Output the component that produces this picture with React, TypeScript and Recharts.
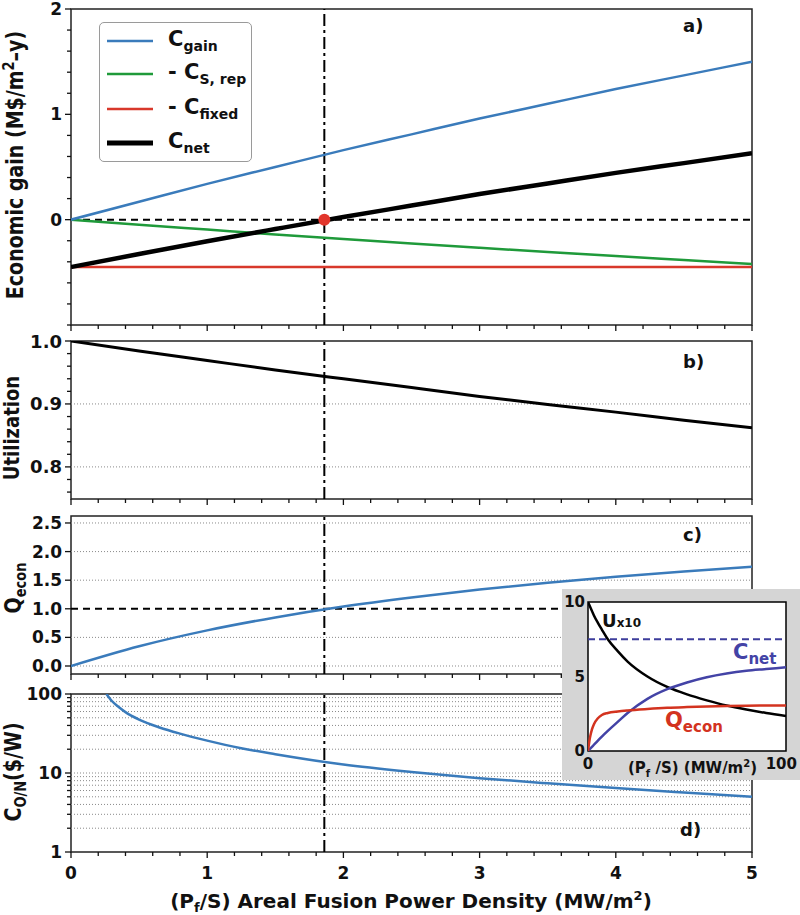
import React from "react";
import { LineChart, Line, XAxis, YAxis, ReferenceLine, ReferenceArea, ReferenceDot } from "recharts";

const FONT = "'DejaVu Sans', 'Liberation Sans', Arial, sans-serif";

// main panels a) - c): areal fusion power density (MW/m2)
const xGrid = [0, 0.5, 1, 1.5, 2, 2.5, 3, 3.5, 4, 4.5, 5];
const cGain = [0, 0.17, 0.34, 0.5, 0.66, 0.81, 0.96, 1.1, 1.24, 1.37, 1.5];
const cSRep = [0, -0.048, -0.094, -0.14, -0.183, -0.226, -0.267, -0.307, -0.346, -0.383, -0.42];
const cFixed = [-0.45, -0.45, -0.45, -0.45, -0.45, -0.45, -0.45, -0.45, -0.45, -0.45, -0.45];
const cNet = [-0.45, -0.326, -0.205, -0.089, 0.025, 0.134, 0.243, 0.344, 0.444, 0.537, 0.63];
const utilization = [1.0, 0.984, 0.969, 0.954, 0.94, 0.926, 0.912, 0.899, 0.887, 0.874, 0.862];
const qEcon = [0, 0.345, 0.623, 0.849, 1.04, 1.198, 1.336, 1.454, 1.56, 1.652, 1.734];

// panel d): overnight cost, log axis
const conX = [0.26, 0.3, 0.35, 0.4, 0.5, 0.65, 0.8, 1, 1.25, 1.5, 2, 2.5, 3, 3.5, 4, 4.5, 5];
const conCost = [100, 81.5, 68.4, 59, 47.4, 37.7, 31.5, 25.7, 20.6, 17.3, 12.8, 10.3, 8.6, 7.4, 6.45, 5.67, 5.0];

// inset: 0..100 MW/m2
const insetX = [0, 1, 2, 3, 5, 7, 10, 15, 20, 30, 40, 50, 60, 70, 80, 90, 100];
const insetU = [10, 9.7, 9.4, 9.1, 8.6, 8.15, 7.5, 6.7, 6.0, 5.0, 4.3, 3.8, 3.4, 3.05, 2.78, 2.55, 2.35];
const insetNet = [0, 0.14, 0.28, 0.42, 0.7, 0.97, 1.35, 1.95, 2.55, 3.5, 4.15, 4.6, 4.95, 5.2, 5.38, 5.5, 5.62];
const insetQ = [0, 0.9, 1.45, 1.8, 2.2, 2.42, 2.55, 2.65, 2.72, 2.82, 2.9, 2.95, 2.99, 3.02, 3.04, 3.05, 3.06];

// ticks
const xTicks = [0, 0.2, 0.4, 0.6, 0.8, 1, 1.2, 1.4, 1.6, 1.8, 2, 2.2, 2.4, 2.6, 2.8, 3, 3.2, 3.4, 3.6, 3.8, 4, 4.2, 4.4, 4.6, 4.8, 5];
const aTicks = [-1, -0.8, -0.6, -0.4, -0.2, 0, 0.2, 0.4, 0.6, 0.8, 1, 1.2, 1.4, 1.6, 1.8, 2];
const bTicks = [0.76, 0.78, 0.8, 0.82, 0.84, 0.86, 0.88, 0.9, 0.92, 0.94, 0.96, 0.98, 1.0];
const cTicks = [0, 0.5, 1, 1.5, 2, 2.5];
const dTicks = [1, 2, 3, 4, 5, 6, 7, 8, 9, 10, 20, 30, 40, 50, 60, 70, 80, 90, 100];
const bGrid = [0.8, 0.9];
const cGrid = [0, 0.5, 1.5, 2, 2.5];
const dGrid = [2, 3, 4, 5, 6, 7, 8, 9, 10, 20, 30, 40, 50, 60, 70, 80, 90];
const operatingPoint = 1.86;

const mainRows = xGrid.map((x, i) => ({
  x,
  gain: cGain[i],
  sRep: cSRep[i],
  fixed: cFixed[i],
  net: cNet[i],
  util: utilization[i],
  q: qEcon[i],
}));
const conRows = conX.map((x, i) => ({ x, cost: conCost[i] }));
const insetRows = insetX.map((x, i) => ({ x, u: insetU[i], net: insetNet[i], q: insetQ[i] }));

const BLUE = "#3a7bbb";
const GREEN = "#1f9a3a";
const RED = "#d8382b";
const INK = "#111";
const PLOT_L = 71;
const PLOT_H = 158;

const isInt = (v: number) => Math.abs(v - Math.round(v)) < 1e-6;

const makeXTick = (axisY: number, labels: boolean) => (p: any) => {
  const v = Number(p.payload.value);
  const major = isInt(v);
  return (
    <g>
      <line x1={p.x} x2={p.x} y1={axisY} y2={axisY + (major ? 6 : 4)} stroke={INK} strokeWidth={1.3} />
      {labels && major ? (
        <text x={p.x} y={axisY + 21} textAnchor="middle" dominantBaseline="central" fontFamily={FONT} fontWeight="bold" fontSize={17} fill={INK}>
          {v}
        </text>
      ) : null}
    </g>
  );
};

const makeYTick = (labelled: number[], digits: number, size: number) => (p: any) => {
  const v = Number(p.payload.value);
  const lab = labelled.some((l) => Math.abs(l - v) < 1e-9);
  return (
    <g>
      <line x1={PLOT_L - (lab ? 6 : 4)} x2={PLOT_L} y1={p.y} y2={p.y} stroke={INK} strokeWidth={1.3} />
      {lab ? (
        <text x={PLOT_L - 9} y={p.y} textAnchor="end" dominantBaseline="central" fontFamily={FONT} fontWeight="bold" fontSize={size} fill={INK}>
          {v.toFixed(digits)}
        </text>
      ) : null}
    </g>
  );
};

const frame = (y1: number, y2: number) => (
  <ReferenceArea x1={0} x2={5} y1={y1} y2={y2} fill="none" stroke="#222" strokeWidth={1.5} />
);
const vline = <ReferenceLine x={operatingPoint} stroke="#000" strokeWidth={2} strokeDasharray="12 4 3 4" />;
const grid = (vals: number[]) =>
  vals.map((v) => <ReferenceLine key={v} y={v} stroke="#8a8a8a" strokeWidth={1} strokeDasharray="1 2" />);

const abs = (left: number, top: number, extra: React.CSSProperties = {}): React.CSSProperties => ({
  position: "absolute",
  left,
  top,
  ...extra,
});

const txt: React.CSSProperties = { fontFamily: FONT, fontWeight: "bold", color: INK, whiteSpace: "nowrap", lineHeight: 1 };

function VTitle({ cx, cy, size, children }: { cx: number; cy: number; size: number; children: React.ReactNode }) {
  return (
    <div
      style={{
        ...txt,
        position: "absolute",
        left: cx,
        top: cy,
        fontSize: size,
        transform: "translate(-50%,-50%) scaleX(1.2) rotate(-90deg)",
      }}
    >
      {children}
    </div>
  );
}

const legendRows = [
  { color: BLUE, width: 2.5, main: "C", sub: "gain", pre: "" },
  { color: GREEN, width: 2.5, main: "C", sub: "S, rep", pre: "- " },
  { color: RED, width: 2.5, main: "C", sub: "fixed", pre: "- " },
  { color: "#000", width: 5, main: "C", sub: "net", pre: "" },
];
const legendY = [18, 51, 86, 120];

export default function App() {
  const axisBase = { type: "number" as const, allowDataOverflow: true, axisLine: false, tickLine: false, interval: 0 as const };
  return (
    <div style={{ position: "absolute", left: 0, top: 0, width: 800, height: 915, background: "#fff", overflow: "hidden" }}>
      {/* a) economic gain */}
      <div style={abs(0, 0)}>
        <LineChart width={800} height={9 + 316 + 12} data={mainRows} margin={{ top: 9, right: 48, bottom: 0, left: 0 }}>
          <XAxis dataKey="x" {...axisBase} domain={[0, 5]} ticks={xTicks} height={12} tick={makeXTick(325, false)} />
          <YAxis {...axisBase} domain={[-1, 2]} ticks={aTicks} width={71} tick={makeYTick([0, 1, 2], 0, 17)} />
          {frame(-1, 2)}
          <ReferenceLine y={0} stroke="#000" strokeWidth={2} strokeDasharray="7 5" />
          {vline}
          <Line dataKey="fixed" stroke={RED} strokeWidth={2.5} dot={false} isAnimationActive={false} />
          <Line dataKey="sRep" type="monotone" stroke={GREEN} strokeWidth={2.5} dot={false} isAnimationActive={false} />
          <Line dataKey="gain" type="monotone" stroke={BLUE} strokeWidth={2.5} dot={false} isAnimationActive={false} />
          <Line dataKey="net" type="monotone" stroke="#000" strokeWidth={4.5} dot={false} isAnimationActive={false} />
          <ReferenceDot x={operatingPoint} y={0} r={6} fill="#e2352b" stroke="none" />
        </LineChart>
      </div>

      {/* b) utilization */}
      <div style={abs(0, 332)}>
        <LineChart width={800} height={9 + PLOT_H + 12} data={mainRows} margin={{ top: 9, right: 48, bottom: 0, left: 0 }}>
          <XAxis dataKey="x" {...axisBase} domain={[0, 5]} ticks={xTicks} height={12} tick={makeXTick(9 + PLOT_H, false)} />
          <YAxis {...axisBase} domain={[0.749, 1.0]} ticks={bTicks} width={71} tick={makeYTick([0.8, 0.9, 1.0], 1, 18)} />
          {grid(bGrid)}
          {frame(0.749, 1.0)}
          {vline}
          <Line dataKey="util" type="natural" stroke="#000" strokeWidth={3} dot={false} isAnimationActive={false} />
        </LineChart>
      </div>

      {/* c) Q_econ */}
      <div style={abs(0, 507)}>
        <LineChart width={800} height={9 + PLOT_H + 12} data={mainRows} margin={{ top: 9, right: 48, bottom: 0, left: 0 }}>
          <XAxis dataKey="x" {...axisBase} domain={[0, 5]} ticks={xTicks} height={12} tick={makeXTick(9 + PLOT_H, false)} />
          <YAxis {...axisBase} domain={[-0.14, 2.622]} ticks={cTicks} width={71} tick={makeYTick(cTicks, 1, 17)} />
          {grid(cGrid)}
          {frame(-0.14, 2.622)}
          <ReferenceLine y={1} stroke="#000" strokeWidth={2} strokeDasharray="7 5" />
          {vline}
          <Line dataKey="q" type="monotone" stroke={BLUE} strokeWidth={2.5} dot={false} isAnimationActive={false} />
        </LineChart>
      </div>

      {/* d) overnight cost */}
      <div style={abs(0, 685)}>
        <LineChart width={800} height={9 + PLOT_H + 60} data={conRows} margin={{ top: 9, right: 48, bottom: 0, left: 0 }}>
          <XAxis dataKey="x" {...axisBase} domain={[0, 5]} ticks={xTicks} height={60} tick={makeXTick(9 + PLOT_H, true)} />
          <YAxis {...axisBase} scale="log" domain={[1, 100]} ticks={dTicks} width={71} tick={makeYTick([1, 10, 100], 0, 17)} />
          {grid(dGrid)}
          {frame(1, 100)}
          {vline}
          <Line dataKey="cost" type="monotone" stroke={BLUE} strokeWidth={2.5} dot={false} isAnimationActive={false} />
        </LineChart>
      </div>

      {/* legend of a) */}
      <div style={abs(99, 22, { width: 153, height: 140, border: "1.5px solid #9a9a9a", borderRadius: 5, background: "#fff", boxSizing: "border-box" })}>
        {legendRows.map((r, i) => (
          <React.Fragment key={i}>
            <svg width={46} height={10} style={abs(7, legendY[i] - 5)}>
              <line x1={0} x2={46} y1={5} y2={5} stroke={r.color} strokeWidth={r.width} />
            </svg>
            <div style={{ ...txt, ...abs(68, legendY[i] - 12), fontSize: 21 }}>
              {r.pre}
              {r.main}
              <span style={{ fontSize: 14, position: "relative", top: 5 }}>{r.sub}</span>
            </div>
          </React.Fragment>
        ))}
      </div>

      {/* panel tags */}
      <div style={{ ...txt, ...abs(683, 17), fontSize: 18 }}>a)</div>
      <div style={{ ...txt, ...abs(683, 353), fontSize: 18 }}>b)</div>
      <div style={{ ...txt, ...abs(683, 526), fontSize: 18 }}>c)</div>
      <div style={{ ...txt, ...abs(680, 821), fontSize: 18 }}>d)</div>

      {/* axis titles */}
      <VTitle cx={14} cy={165} size={19}>
        Economic gain (M$/m<sup style={{ fontSize: 13 }}>2</sup>–y)
      </VTitle>
      <VTitle cx={12} cy={428} size={18}>
        Utilization
      </VTitle>
      <VTitle cx={13} cy={588} size={19}>
        Q<span style={{ fontSize: 13, position: "relative", top: 4 }}>econ</span>
      </VTitle>
      <VTitle cx={13} cy={772} size={19}>
        C<span style={{ fontSize: 13, position: "relative", top: 4 }}>O/N</span>($/W)
      </VTitle>
      <div style={{ ...txt, position: "absolute", left: 411, top: 900, transform: "translate(-50%,-50%)", fontSize: 20 }}>
        (P<span style={{ fontSize: 13, position: "relative", top: 4 }}>f</span>/S) Areal Fusion Power Density (MW/m
        <sup style={{ fontSize: 13 }}>2</sup>)
      </div>

      {/* inset */}
      <div style={abs(562, 589, { width: 238, height: 191, background: "#d5d5d5", zIndex: 5 })}>
        <div style={abs(26, 13, { width: 198, height: 149, background: "#fff" })} />
        <div style={abs(0, 0)}>
          <LineChart width={238} height={191} data={insetRows} margin={{ top: 13, right: 14, bottom: 0, left: 0 }}>
            <XAxis
              dataKey="x"
              {...axisBase}
              domain={[0, 100]}
              ticks={[0, 100]}
              height={29}
              tick={(p: any) => (
                <text
                  x={p.payload.value === 100 ? 235 : p.x}
                  y={175}
                  textAnchor={p.payload.value === 100 ? "end" : "middle"}
                  dominantBaseline="central"
                  fontFamily={FONT}
                  fontWeight="bold"
                  fontSize={15}
                  fill={INK}
                >
                  {p.payload.value}
                </text>
              )}
            />
            <YAxis
              {...axisBase}
              domain={[0, 10]}
              ticks={[0, 5, 10]}
              width={26}
              tick={(p: any) => (
                <text x={23} y={p.y} textAnchor="end" dominantBaseline="central" fontFamily={FONT} fontWeight="bold" fontSize={15} fill={INK}>
                  {p.payload.value}
                </text>
              )}
            />
            <ReferenceArea x1={0} x2={100} y1={0} y2={10} fill="none" stroke="#000" strokeWidth={1.5} />
            <ReferenceLine y={7.5} stroke="#3d3d9c" strokeWidth={2} strokeDasharray="7 4" />
            <Line dataKey="u" type="monotone" stroke="#000" strokeWidth={2.5} dot={false} isAnimationActive={false} />
            <Line dataKey="net" type="monotone" stroke="#4343a6" strokeWidth={2.5} dot={false} isAnimationActive={false} />
            <Line dataKey="q" type="monotone" stroke="#d3331f" strokeWidth={2.5} dot={false} isAnimationActive={false} />
          </LineChart>
        </div>
        <div style={{ ...txt, ...abs(40, 23), fontSize: 18 }}>
          U<span style={{ fontSize: 12 }}>x10</span>
        </div>
        <div style={{ ...txt, ...abs(171, 53), fontSize: 21, color: "#4343a6" }}>
          C<span style={{ fontSize: 15, position: "relative", top: 5 }}>net</span>
        </div>
        <div style={{ ...txt, ...abs(103, 121), fontSize: 21, color: "#d3331f" }}>
          Q<span style={{ fontSize: 15, position: "relative", top: 5 }}>econ</span>
        </div>
        <div style={{ ...txt, ...abs(66, 170), fontSize: 15 }}>
          (P<span style={{ fontSize: 10, position: "relative", top: 4 }}>f</span> /S) (MW/m
          <sup style={{ fontSize: 10 }}>2</sup>)
        </div>
      </div>
    </div>
  );
}
